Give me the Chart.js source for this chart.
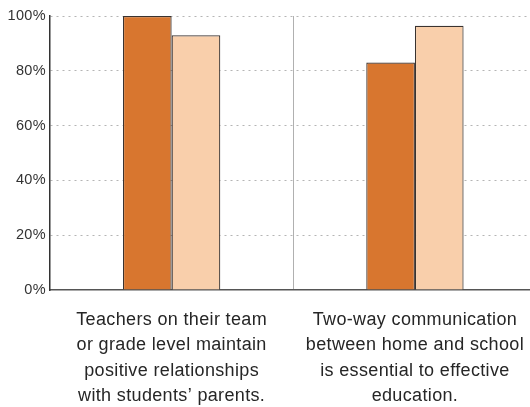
<!DOCTYPE html>
<html>
<head>
<meta charset="utf-8">
<script src="https://cdn.jsdelivr.net/npm/chart.js@4.4.1/dist/chart.umd.min.js"></script>
<style>
    html, body { margin: 0; padding: 0; background: #fff; }
    /* el área del gráfico sigue un poco más allá del borde derecho */
    #wrap { width: 530px; height: 407px; overflow: hidden; }
</style>
</head>
<body>
<div id="wrap"><canvas id="grafico" width="537" height="407"></canvas></div>
<script>
// Datos del gráfico
const categorias = [
    ['Teachers on their team', 'or grade level maintain', 'positive relationships', 'with students\u2019 parents.'],
    ['Two-way communication', 'between home and school', 'is essential to effective', 'education.']
];
const serieOscura = [100, 83];
const serieClara = [93, 96.4];
const ticksY = [0, 20, 40, 60, 80, 100];

const ctx = document.getElementById('grafico').getContext('2d');

// Espaciado de letras un poco más abierto, como en el original
const espaciado = {
    id: 'espaciado',
    beforeDraw: (chart) => {
        if ('letterSpacing' in chart.ctx) chart.ctx.letterSpacing = '0.35px';
    }
};

new Chart(ctx, {
    type: 'bar',
    data: {
        labels: categorias,
        datasets: [
            {
                data: serieOscura,
                backgroundColor: '#d8762f',
                borderColor: '#3a3330',
                borderWidth: 1.2,
                categoryPercentage: 0.4,
                barPercentage: 1
            },
            {
                data: serieClara,
                backgroundColor: '#f9cfab',
                borderColor: '#3a3330',
                borderWidth: 1.2,
                categoryPercentage: 0.4,
                barPercentage: 1
            }
        ]
    },
    plugins: [espaciado],
    options: {
        responsive: false,
        animation: false,
        layout: {
            padding: { top: 16, right: 0, bottom: 0, left: 0 }
        },
        plugins: {
            legend: { display: false },
            tooltip: { enabled: false }
        },
        scales: {
            x: {
                offset: true,
                grid: {
                    offset: true,
                    drawTicks: false,
                    color: (c) => c.index === 1 ? '#b0b0b0' : 'rgba(0,0,0,0)',
                    lineWidth: 1
                },
                border: { color: '#555', width: 1.5 },
                ticks: {
                    maxRotation: 0,
                    autoSkip: false,
                    padding: 17,
                    color: '#262626',
                    font: { family: "'Liberation Sans', Arial, sans-serif", size: 18, lineHeight: 1.42 }
                },
                afterFit: (scale) => { scale.height = 117; }
            },
            y: {
                min: 0,
                max: 100,
                afterBuildTicks: (scale) => { scale.ticks = ticksY.map(v => ({ value: v })); },
                grid: {
                    drawTicks: false,
                    color: (c) => c.tick && c.tick.value === 0 ? 'rgba(0,0,0,0)' : '#b5b5b5',
                    lineWidth: 1
                },
                border: { color: '#333', width: 1.5, dash: [2, 4] },
                ticks: {
                    padding: 4,
                    color: '#333',
                    font: { family: "'Liberation Sans', Arial, sans-serif", size: 14.5 },
                    callback: (v) => v + '%'
                },
                afterFit: (scale) => { scale.width = 50; }
            }
        }
    }
});
</script>
</body>
</html>
